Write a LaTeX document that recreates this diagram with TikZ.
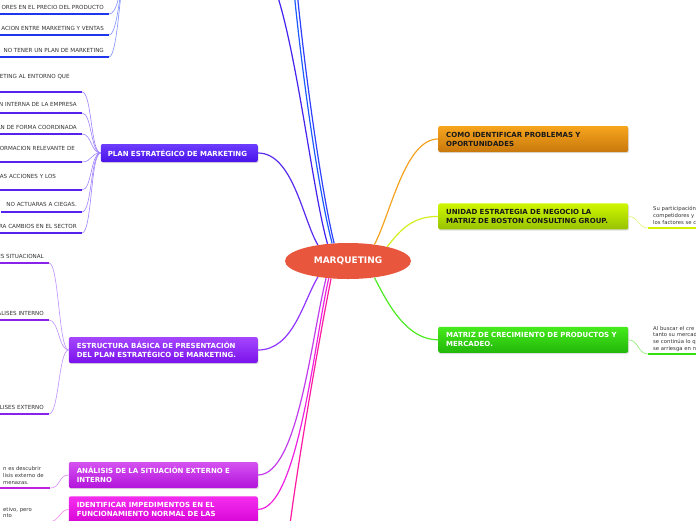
\documentclass[tikz,border=0pt]{standalone}
\usepackage{fontspec}
\setmainfont{DejaVu Sans}
\usetikzlibrary{shapes.geometric, shadows, positioning}

% fills
\definecolor{mqRed}{HTML}{E8573D}
\definecolor{ocTop}{HTML}{F8A51E}
\definecolor{ocBot}{HTML}{C8780C}
\definecolor{ylTop}{HTML}{CFF700}
\definecolor{ylBot}{HTML}{97C200}
\definecolor{grTop}{HTML}{46EA1C}
\definecolor{grBot}{HTML}{22B70A}
\definecolor{blTop}{HTML}{6C3DFF}
\definecolor{blBot}{HTML}{4A12EA}
\definecolor{vlTop}{HTML}{A546FF}
\definecolor{vlBot}{HTML}{7A12EA}
\definecolor{mgTop}{HTML}{D552F2}
\definecolor{mgBot}{HTML}{B314DA}
\definecolor{pkTop}{HTML}{F52DEE}
\definecolor{pkBot}{HTML}{D806D8}
% branches
\definecolor{brOrange}{HTML}{F5A21E}
\definecolor{brYellow}{HTML}{D5EE22}
\definecolor{brGreen}{HTML}{4CEB22}
\definecolor{brPlan}{HTML}{5A2BEE}
\definecolor{brEstr}{HTML}{9035FF}
\definecolor{brAnal}{HTML}{C23CEA}
\definecolor{brIdent}{HTML}{F020E0}
\definecolor{brBottom}{HTML}{FF1AA0}
\definecolor{brTopA}{HTML}{4422EE}
\definecolor{brTopB}{HTML}{1E5BFF}
\definecolor{brTopC}{HTML}{2F40FF}
% leaves
\definecolor{ulBlue}{HTML}{1F35EE}
\definecolor{ulPlan}{HTML}{5522EE}
\definecolor{ulEstr}{HTML}{8A22EA}
\definecolor{ulAnal}{HTML}{BE22DE}
\definecolor{ulYellow}{HTML}{D4F000}
\definecolor{ulGreen}{HTML}{33E011}
\definecolor{twBlue}{HTML}{8090FF}
\definecolor{twPlan}{HTML}{9F82FF}
\definecolor{twEstr}{HTML}{BE90FF}
\definecolor{twAnal}{HTML}{DC90F2}
\definecolor{twIdent}{HTML}{F282EC}
\definecolor{twYellow}{HTML}{E2F27A}
\definecolor{twGreen}{HTML}{88F06A}
\definecolor{leafText}{HTML}{333333}

\begin{document}
\begin{tikzpicture}[
    x=1pt, y=-1pt,
    topic/.style={
        rectangle,
        rounded corners=2pt,
        text width=174pt,
        inner xsep=8pt,
        align=left,
        minimum height=26pt,
        font=\fontsize{7}{9}\selectfont\bfseries,
        drop shadow={opacity=0.25, shadow xshift=0.8pt, shadow yshift=-1.2pt}
    },
    leaf/.style={
        anchor=south east,
        inner xsep=5pt,
        inner ysep=1.5pt,
        text depth=2.5pt,
        text=leafText,
        font=\fontsize{5.6}{6.6}\selectfont
    },
    wideleaf/.style={text width=77pt, align=left},
    note/.style={
        inner xsep=3pt,
        inner ysep=1.8pt,
        text width=#1,
        align=left,
        text=leafText,
        font=\fontsize{5.3}{6.6}\selectfont,
        execute at end node=\strut
    },
    uline/.style={line width=1.6pt, draw=#1},
    twig/.style={line width=0.6pt, draw=#1},
    branch/.style={line width=1.2pt, draw=#1}
]

\useasboundingbox (0,0) rectangle (696,520);
\fill[white] (0,0) rectangle (696,520);
\clip (0,0) rectangle (696,520);

% Central topic
\node (mq) [ellipse, fill=mqRed, minimum width=126pt, minimum height=36pt, inner sep=0pt,
    text=white, font=\fontsize{9}{10}\selectfont\bfseries] at (348,261) {MARQUETING};

% Right topics
\node (como) [topic, top color=ocTop, bottom color=ocBot, text=black!90, anchor=west] at (438,139)
    {COMO IDENTIFICAR PROBLEMAS Y\\OPORTUNIDADES};
\node (unidad) [topic, top color=ylTop, bottom color=ylBot, text=black!90, below=51pt of como]
    {UNIDAD ESTRATEGIA DE NEGOCIO LA\\MATRIZ DE BOSTON CONSULTING GROUP.};
\node (crec) [topic, top color=grTop, bottom color=grBot, text=white, below=97pt of unidad]
    {MATRIZ DE CRECIMIENTO DE PRODUCTOS Y\\MERCADEO.};

% Left topics
\node (plan) [topic, top color=blTop, bottom color=blBot, text=white, text width=143pt,
    inner xsep=7pt, minimum height=18pt, anchor=east] at (258,153) {PLAN ESTRATÉGICO DE MARKETING};
\node (estruct) [topic, top color=vlTop, bottom color=vlBot, text=white, text width=173pt, anchor=east] at (258,350)
    {ESTRUCTURA BÁSICA DE PRESENTACIÓN\\DEL PLAN ESTRATÉGICO DE MARKETING.};
\node (anal) [topic, top color=mgTop, bottom color=mgBot, text=white, text width=173pt, anchor=east] at (258,475)
    {ANÁLISIS DE LA SITUACIÓN EXTERNO E\\INTERNO};
\node (ident) [topic, top color=pkTop, bottom color=pkBot, text=white, text width=173pt, below=8pt of anal]
    {IDENTIFICAR IMPEDIMENTOS EN EL\\FUNCIONAMIENTO NORMAL DE LAS};

% Branch ends outside the page
\coordinate (offTopL) at (124,-30);
\coordinate (offTopA) at (272,-20);
\coordinate (offTopB) at (292,-30);
\coordinate (offTopC) at (295,-30);
\coordinate (offBottom) at (286,560);

% Leaves, top branch
\node (tl1) [leaf] at (109,14) {ORES EN EL PRECIO DEL PRODUCTO};
\node (tl2) [leaf] at (109,35) {ACION ENTRE MARKETING Y VENTAS};
\node (tl3) [leaf] at (109,57) {NO TENER UN PLAN DE MARKETING};

% Leaves, plan
\node (pl1) [leaf, wideleaf, text depth=11.5pt] at (82,92) {ETING AL ENTORNO  QUE};
\node (pl2) [leaf, text depth=4.5pt] at (82,113) {N INTERNA DE LA EMPRESA};
\node (pl3) [leaf] at (82,134) {ÁN DE FORMA COORDINADA};
\node (pl4) [leaf, wideleaf, text depth=9.5pt] at (82,162) {ORMACION RELEVANTE DE};
\node (pl5) [leaf, wideleaf, text depth=9.5pt] at (82,190) {AS ACCIONES Y LOS};
\node (pl6) [leaf, text depth=3.5pt] at (82,212) {NO ACTUARAS A CIEGAS.};
\node (pl7) [leaf] at (82,233) {RA CAMBIOS EN EL SECTOR};

% Leaves, estructura
\node (es1) [leaf, text depth=3pt] at (49,263) {ES SITUACIONAL};
\node (es2) [leaf, text depth=3pt] at (49,320) {ÁLISES INTERNO};
\node (es3) [leaf, text depth=3pt] at (49,414) {ÁLISES EXTERNO};

% Leaves, lower left
\node (an1) [note=44pt, anchor=south west] at (0,488) {n es descubrir\\lisis externo de\\menazas.};
\node (id1) [note=44pt, anchor=north west] at (0,505) {etivo, pero\\nto};

% Leaves, right
\node (ud1) [note=60pt, inner xsep=5pt, anchor=south west] at (648,228)
    {Su participación\\competidores y\\los factores se c};
\node (cr1) [note=60pt, inner xsep=5pt, anchor=south west] at (648,354)
    {Al buscar el cre\\tanto su mercad\\se continúa lo q\\se arriesga en n};

% Branches
\draw [branch=brTopA] (mq.140) .. controls (312,190) and (296,40) .. (offTopA);
\draw [branch=brTopB] (mq.132) .. controls (318,190) and (300,60) .. (offTopB);
\draw [branch=brTopC] (mq.128) .. controls (321,190) and (303,60) .. (offTopC);
\draw [branch=brPlan] (mq.152) .. controls +(-15,-25) and +(35,0) .. (plan.east);
\draw [branch=brEstr] (mq.208) .. controls +(-15,25) and +(35,0) .. (estruct.east);
\draw [branch=brAnal] (mq.218) .. controls +(-15,60) and +(40,0) .. (anal.east);
\draw [branch=brIdent] (mq.222) .. controls +(-14,60) and +(40,0) .. (ident.east);
\draw [branch=brBottom] (mq.226) .. controls +(-12,60) and +(5,-60) .. (offBottom);
\draw [branch=brOrange] (mq.32) .. controls +(16,-30) and +(-33,0) .. (como.west);
\draw [branch=brYellow] (mq.20) .. controls +(14,-18) and +(-25,0) .. (unidad.west);
\draw [branch=brGreen] (mq.-32) .. controls +(15,30) and +(-30,0) .. (crec.west);

% Twigs
\foreach \i in {1,2,3}
    \draw [twig=twBlue] (tl\i.south east) .. controls +(8,0) and +(-4,22) .. (offTopL);
\foreach \i in {1,...,7}
    \draw [twig=twPlan] (pl\i.south east) .. controls +(10,0) and +(-10,0) .. (plan.west);
\foreach \i in {1,2,3}
    \draw [twig=twEstr] (es\i.south east) .. controls +(10,0) and +(-10,0) .. (estruct.west);
\draw [twig=twAnal] (an1.south east) .. controls +(10,0) and +(-10,0) .. (anal.west);
\draw [twig=twIdent] (id1.south east) .. controls +(8,0) and +(-8,0) .. (ident.west);
\draw [twig=twYellow] (unidad.east) .. controls +(10,0) and +(-10,0) .. (ud1.south west);
\draw [twig=twGreen] (crec.east) .. controls +(10,0) and +(-10,0) .. (cr1.south west);

% Underlines
\foreach \n/\c in {tl1/ulBlue, tl2/ulBlue, tl3/ulBlue,
    pl1/ulPlan, pl2/ulPlan, pl3/ulPlan, pl4/ulPlan, pl5/ulPlan, pl6/ulPlan, pl7/ulPlan,
    es1/ulEstr, es2/ulEstr, es3/ulEstr, an1/ulAnal, ud1/ulYellow, cr1/ulGreen}
    \draw [uline=\c] (\n.south west) -- (\n.south east);

\end{tikzpicture}
\end{document}
